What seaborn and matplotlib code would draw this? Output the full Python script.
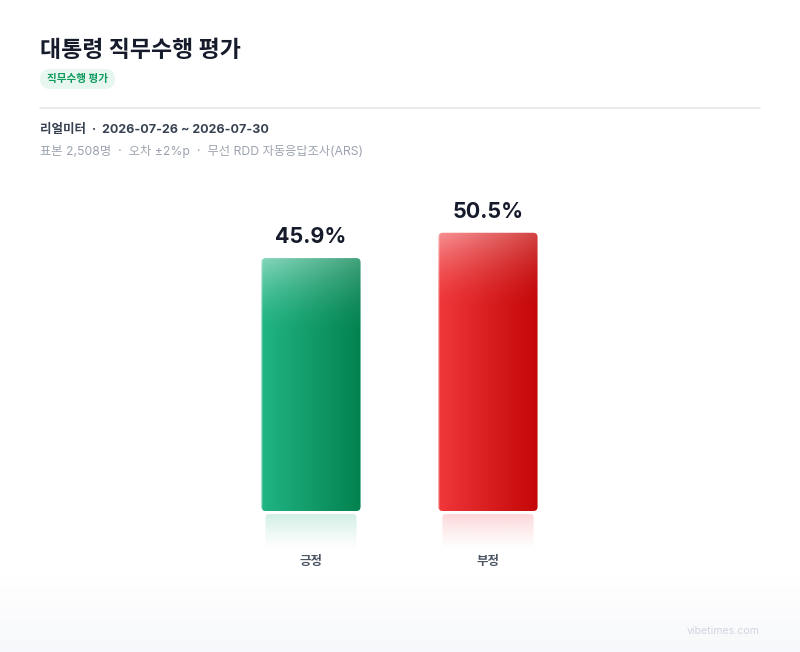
import numpy as np
import pandas as pd
import seaborn as sns
import matplotlib.pyplot as plt
from matplotlib.patches import FancyBboxPatch
from matplotlib.colors import to_rgb

# data
categories = ['긍정', '부정']
values = [45.9, 50.5]
left_colors = ['#21b584', '#f0373a']
right_colors = ['#03824f', '#c40707']
reflect_colors = ['#1fae7c', '#ef3a3d']

title = '대통령 직무수행 평가'
tag = '직무수행 평가'
source_line = '리얼미터  ·  2026-07-26 ~ 2026-07-30'
info_line = '표본 2,508명  ·  오차 ±2%p  ·  무선 RDD 자동응답조사(ARS)'
footer = 'vibetimes.com'

sns.set_theme(style='white')
plt.rcParams['font.family'] = ['Inter', 'Noto Sans CJK KR', 'DejaVu Sans']

W, H = 800, 652
fig = plt.figure(figsize=(W / 100, H / 100), dpi=100)
fig.patch.set_facecolor('white')

# background fade at the bottom
bg = fig.add_axes([0, 0, 1, 1], zorder=-5)
ramp = np.ones((H, 1, 3))
start = 575
for i in range(start, H):
    t = (i - start) / (H - start)
    ramp[i, 0] = (1 - t) * np.array([1, 1, 1]) + t * np.array(to_rgb('#f7f8fb'))
bg.imshow(ramp, aspect='auto', extent=(0, 1, 0, 1))
bg.axis('off')

# bar axes: baseline at y=511px, 5.51 px per unit
ymin, ymax = -8, 60
ppu = 5.51
base_px = 511
ax_bottom = (H - (base_px + (-ymin) * ppu)) / H
ax_h = (ymax - ymin) * ppu / H
ax = fig.add_axes([134 / W, ax_bottom, 531 / W, ax_h])
df = pd.DataFrame({'cat': categories, 'val': values})
sns.barplot(data=df, x='cat', y='val', ax=ax, width=0.56, color='#cccccc')
ax.set_xlim(-1, 2)
ax.set_ylim(ymin, ymax)

xpx = 177.0  # px per x unit
aspect = xpx / ppu
for i, p in enumerate(ax.patches):
    x0, w, h = p.get_x(), p.get_width(), p.get_height()
    p.set_visible(False)
    nx, ny = 120, 300
    lc, rc = np.array(to_rgb(left_colors[i])), np.array(to_rgb(right_colors[i]))
    tx = np.linspace(0, 1, nx)[None, :, None]
    img = (1 - tx) * lc + tx * rc
    img = np.repeat(img, ny, axis=0)
    # gloss near the top (rows from top)
    yy = np.linspace(0, h * ppu, ny)[:, None, None]
    gloss = np.clip(1 - yy / 75, 0, 1) ** 1.6 * 0.45 * (1 - 0.45 * tx)
    img = img * (1 - gloss) + gloss
    # thin left highlight
    img[:, :2] = img[:, :2] * 0.75 + 0.25
    clip = FancyBboxPatch((x0, 0), w, h, boxstyle='round,pad=0,rounding_size=0.024',
                          mutation_aspect=aspect, facecolor='none', edgecolor='none',
                          transform=ax.transData)
    ax.add_patch(clip)
    im = ax.imshow(img, extent=(x0, x0 + w, 0, h), aspect='auto', zorder=3)
    im.set_clip_path(clip)

    # reflection
    ins = 4 / xpx
    r_top, r_bot = -0.55, -7.0
    rc2 = np.array(to_rgb(reflect_colors[i]))
    ry = np.linspace(0, 1, 60)[:, None, None]
    refl = np.zeros((60, 1, 4))
    refl[..., :3] = rc2
    refl[..., 3] = (0.2 * (1 - ry) ** 1.2)[..., 0]
    rclip = FancyBboxPatch((x0 + ins, r_bot), w - 2 * ins, r_top - r_bot,
                           boxstyle='round,pad=0,rounding_size=0.02',
                           mutation_aspect=aspect, facecolor='none', edgecolor='none',
                           transform=ax.transData)
    ax.add_patch(rclip)
    rim = ax.imshow(refl, extent=(x0 + ins, x0 + w - ins, r_bot, r_top), aspect='auto', zorder=2)
    rim.set_clip_path(rclip)

    ax.annotate(f'{values[i]}%', (x0 + w / 2, h), xytext=(0, 15), textcoords='offset pixels',
                ha='center', va='baseline', fontsize=15.5, fontweight='bold', color='#151b2b')

ax.set_xlabel('')
ax.set_ylabel('')
ax.set_yticks([])
ax.tick_params(axis='x', length=0, pad=1, labelsize=9, labelcolor='#4b5563')
for lab in ax.get_xticklabels():
    lab.set_fontweight('bold')
for s in ax.spines.values():
    s.set_visible(False)
ax.patch.set_alpha(0)

# header texts
fig.text(40 / W, 1 - 51 / H, title, fontsize=16.5, fontweight='bold', color='#151b2b', va='center')
pill = FancyBboxPatch((40 / W, 1 - 89 / H), 75 / W, 20 / H,
                      boxstyle='round,pad=0,rounding_size=0.0125', mutation_aspect=W / H,
                      transform=fig.transFigure, facecolor='#e7f7ef', edgecolor='none')
fig.add_artist(pill)
fig.text(77.5 / W, 1 - 79 / H, tag, fontsize=7.6, fontweight='bold', color='#0f9a5e',
         ha='center', va='center')
fig.add_artist(plt.Line2D([40 / W, 760 / W], [1 - 107.5 / H, 1 - 107.5 / H],
                          color='#e6e8ec', lw=1.2, transform=fig.transFigure))
fig.text(40 / W, 1 - 130 / H, source_line, fontsize=9.0, fontweight='bold', color='#374151',
         va='center')
fig.text(40 / W, 1 - 151 / H, info_line, fontsize=8.8, color='#9ca3af', va='center')
fig.text(760 / W, 1 - 631 / H, footer, fontsize=7.6, color='#cfd6e1', ha='right', va='center')

fig.savefig('out.png', dpi=100)
